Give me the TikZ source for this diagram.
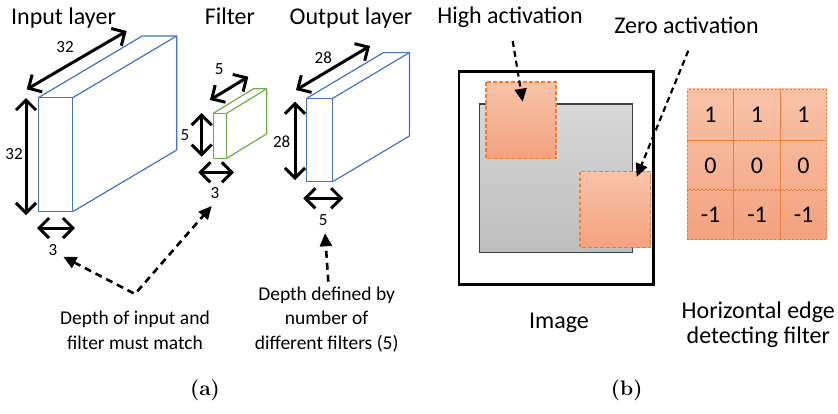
\documentclass[tikz,border=0pt]{standalone}
\usepackage{fontspec}
\newfontfamily\cbfont{Carlito}
\usetikzlibrary{arrows.meta}
\definecolor{boxblue}{HTML}{4472C4}
\definecolor{boxgreen}{HTML}{70AD47}
\definecolor{edgeorange}{HTML}{ED7D31}
\definecolor{salmonlt}{HTML}{F8C3AA}
\definecolor{salmondk}{HTML}{F4A27F}
\definecolor{graylt}{HTML}{D8D8D8}
\definecolor{graydk}{HTML}{BDBDBD}
\tikzset{
  big/.style={font=\cbfont\fontsize{24}{28}\selectfont, inner sep=0pt},
  note/.style={font=\cbfont\fontsize{19.5}{25}\selectfont, inner sep=0pt, align=center},
  dim/.style={font=\cbfont\fontsize{17}{19}\selectfont, inner sep=0pt},
  caption/.style={font=\bfseries\fontsize{21}{24}\selectfont, inner sep=0pt},
  dimarrow/.style={line width=3pt, {Straight Barb[length=10pt,width=20pt]}-{Straight Barb[length=10pt,width=20pt]}},
  dasharrow/.style={line width=2.6pt, dash pattern=on 7pt off 5pt, -{Triangle[length=13pt,width=12pt]}},
  cubeline/.style={line width=1.2pt, line join=round},
  patch/.style={draw=edgeorange, line width=1.1pt, dash pattern=on 3.5pt off 2.5pt, top color=salmonlt, bottom color=salmondk},
  cell/.style={draw=edgeorange, line width=0.8pt, dash pattern=on 2pt off 2pt, minimum width=46.5pt, minimum height=50.3pt, inner sep=0pt, font=\cbfont\fontsize{24}{28}\selectfont}
}
\begin{document}
\begin{tikzpicture}[x=1pt,y=-1pt]
\useasboundingbox (0,0) rectangle (838,413);

% ---------- (a) layers ----------
% input volume 32x32x3
\begin{scope}[cubeline, draw=boxblue]
  \draw (38.3,97.7) rectangle (72.7,211.7);
  \draw (38.3,97.7) -- ++(104,-61.7) -- ++(34.4,0) -- ++(0,114) -- (72.7,211.7);
  \draw (72.7,97.7) -- ++(104,-61.7);
\end{scope}
% filter 5x5x3
\begin{scope}[cubeline, draw=boxgreen]
  \draw (213.3,113.3) rectangle (226.7,158.3);
  \draw (213.3,113.3) -- ++(40,-24.5) -- ++(13.4,0) -- ++(0,45) -- (226.7,158.3);
  \draw (226.7,113.3) -- ++(40,-24.5);
\end{scope}
% output volume 28x28x5
\begin{scope}[cubeline, draw=boxblue]
  \draw (306.7,98.3) rectangle (332.7,181.7);
  \draw (306.7,98.3) -- ++(76.7,-45.7) -- ++(26,0) -- ++(0,83.4) -- (332.7,181.7);
  \draw (332.7,98.3) -- ++(76.7,-45.7);
\end{scope}

% titles
\node[big, anchor=base] (tin) at (63.5,24) {Input layer};
\node[big, anchor=base] (tfil) at (230,24) {Filter};
\node[big, anchor=base] (tout) at (351,24) {Output layer};

% dimension arrows
\draw[dimarrow] (26.7,89.3) -- (126.7,31);
\draw[dimarrow] (26,98) -- (26,215);
\draw[dimarrow] (37,228) -- (75,228);
\draw[dimarrow] (210,100) -- (248.3,76.7);
\draw[dimarrow] (201.7,113) -- (201.7,156.7);
\draw[dimarrow] (198.3,172.3) -- (234,172.3);
\draw[dimarrow] (296,90) -- (370,46);
\draw[dimarrow] (295,101.7) -- (295,180);
\draw[dimarrow] (303.3,198.3) -- (343.3,198.3);

% dimension labels
\node[dim] (dinw) at (65,46.7) {32};
\node[dim] (dinh) at (14,154) {32};
\node[dim] (dind) at (53,250) {3};
\node[dim] (dfw) at (219.3,69) {5};
\node[dim] (dfh) at (185,135) {5};
\node[dim] (dfd) at (215,193) {3};
\node[dim] (doutw) at (323.3,57.3) {28};
\node[dim] (douth) at (281.7,141.7) {28};
\node[dim] (doutd) at (323.3,220) {5};

% notes
\node[note, anchor=base] (nmatch1) at (135,324.3) {Depth of input and};
\node[note, anchor=base] (nmatch2) at (135,349.3) {filter must match};
\node[note, anchor=base] (ndef1) at (326.7,300) {Depth defined by};
\node[note, anchor=base] (ndef2) at (326.7,324.3) {number of};
\node[note, anchor=base] (ndef3) at (326.7,349.3) {different filters (5)};

\coordinate (bend) at (135,294);
\coordinate (tipin) at (63.3,256.7);
\coordinate (tipf) at (211.7,206);
\draw[dasharrow, {Triangle[length=13pt,width=12pt]}-{Triangle[length=13pt,width=12pt]}] (tipin) -- (bend) -- (tipf);
\coordinate (defstart) at (328.3,281.7);
\coordinate (deftip) at (325,233.3);
\draw[dasharrow] (defstart) -- (deftip);

% ---------- (b) edge detection ----------
\draw[line width=2.6pt] (459,71.7) rectangle (653.3,284.3);
\shade[top color=graylt, bottom color=graydk] (479.3,104) rectangle (632.7,252.7);
\draw[line width=1.1pt, draw=black!75] (479.3,104) rectangle (632.7,252.7);
\path[patch] (486,82) rectangle (556,158.3);
\path[patch] (580,171.7) rectangle (650.7,247.3);

\node[big, anchor=base] (lhigh) at (510,23.3) {High activation};
\node[big, anchor=base] (lzero) at (686.5,33.3) {Zero activation};
\coordinate (hstart) at (512.7,41);
\coordinate (htip) at (522.7,101.7);
\coordinate (zstart) at (688.3,50.7);
\coordinate (ztip) at (636.7,176.7);
\draw[dasharrow, line width=2.2pt, dash pattern=on 6pt off 4pt] (hstart) -- (htip);
\draw[dasharrow, line width=2.2pt, dash pattern=on 6pt off 4pt] (zstart) -- (ztip);

\node[big, anchor=base] (limg) at (559,328.3) {Image};

% 3x3 filter kernel
\shade[top color=salmonlt, bottom color=salmondk] (687.3,88.3) rectangle (826.7,239.3);
\node[cell] (k11) at (710.5,115) {1};
\node[cell] (k12) at (757,115) {1};
\node[cell] (k13) at (803.5,115) {1};
\node[cell] (k21) at (710.5,165.3) {0};
\node[cell] (k22) at (757,165.3) {0};
\node[cell] (k23) at (803.5,165.3) {0};
\node[cell] (k31) at (710.5,214.3) {-1};
\node[cell] (k32) at (757,214.3) {-1};
\node[cell] (k33) at (803.5,214.3) {-1};

\node[big, anchor=base] (lhor1) at (758.3,318.3) {Horizontal edge};
\node[big, anchor=base] (lhor2) at (758.3,343.3) {detecting filter};

% sub-captions
\node[caption] (capa) at (205,390.7) {(a)};
\node[caption] (capb) at (626.7,390.7) {(b)};
\end{tikzpicture}
\end{document}
